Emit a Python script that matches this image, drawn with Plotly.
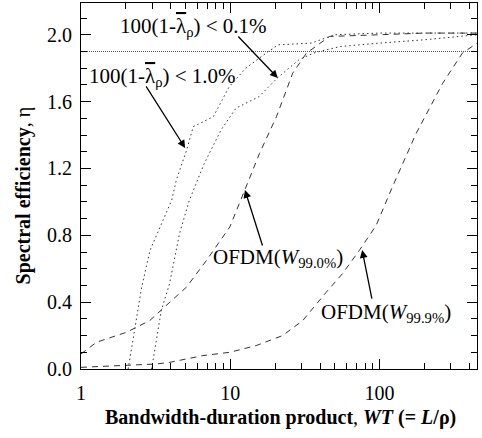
import plotly.graph_objects as go

# ---- data ----
wt_a = [2.07, 2.3, 2.55, 2.9, 4.05, 4.35, 5.1, 5.65, 7.7, 9.85, 12.7, 18, 21, 35, 50, 100, 200, 450]
eta_a = [0.0, 0.25, 0.49, 0.71, 1.01, 1.13, 1.31, 1.45, 1.51, 1.69, 1.80, 1.90, 1.94, 1.95, 2.0, 2.01, 2.01, 2.01]

wt_b = [2.97, 3.45, 3.92, 4.57, 5.32, 6.7, 8.67, 10.9, 15.6, 20.6, 28.8, 36, 44, 55, 100, 200, 450]
eta_b = [0.0, 0.35, 0.51, 0.81, 1.01, 1.23, 1.43, 1.56, 1.63, 1.74, 1.85, 1.89, 1.91, 1.93, 1.95, 1.97, 2.0]

wt_o99 = [1.0, 1.27, 2.02, 2.89, 3.94, 5.09, 6.93, 9.93, 12.5, 15.7, 20.4, 26.2, 32.4, 46.3, 100, 200, 450]
eta_o99 = [0.09, 0.16, 0.22, 0.29, 0.40, 0.49, 0.65, 0.85, 1.07, 1.29, 1.51, 1.77, 1.89, 1.99, 2.0, 2.01, 2.01]

wt_o999 = [1.0, 2.0, 3.2, 3.94, 6.54, 9.93, 14.9, 22.4, 30.6, 44.0, 56.4, 73.3, 95.0, 122, 176, 265, 359, 450]
eta_o999 = [0.01, 0.02, 0.03, 0.04, 0.08, 0.10, 0.14, 0.20, 0.29, 0.46, 0.57, 0.71, 0.86, 1.09, 1.41, 1.71, 1.89, 1.95]

ref_wt = [1.0, 450]
ref_eta = [1.9, 1.9]

x_major = [1, 10, 100]
x_minor = [2, 3, 4, 5, 6, 7, 8, 9, 20, 30, 40, 50, 60, 70, 80, 90, 200, 300, 400]

FONT = "Times New Roman, Liberation Serif, serif"
fig = go.Figure()

fig.add_trace(go.Scatter(x=ref_wt, y=ref_eta, mode="lines",
                         line=dict(color="#555", width=1, dash="1px,1px")))
fig.add_trace(go.Scatter(x=wt_a, y=eta_a, mode="lines",
                         line=dict(color="#333", width=1, dash="1.5px,3px")))
fig.add_trace(go.Scatter(x=wt_b, y=eta_b, mode="lines",
                         line=dict(color="#333", width=1, dash="1.5px,3px")))
fig.add_trace(go.Scatter(x=wt_o99, y=eta_o99, mode="lines",
                         line=dict(color="#333", width=1, dash="6px,5px")))
fig.add_trace(go.Scatter(x=wt_o999, y=eta_o999, mode="lines",
                         line=dict(color="#333", width=1, dash="6px,5px")))

def ann_text(txt, x, y, size=21, angle=0):
    fig.add_annotation(text=txt, x=x, y=y, xref="paper", yref="paper",
                       showarrow=False, xanchor="center", yanchor="middle",
                       textangle=angle,
                       font=dict(family=FONT, size=size, color="black"))

def ann_arrow(x, y, ax, ay):
    fig.add_annotation(text="", x=x, y=y, xref="paper", yref="paper",
                       showarrow=True, ax=ax, ay=ay, arrowhead=2, arrowsize=1.2,
                       arrowwidth=1.3, arrowcolor="black")

lam = '<span style="text-decoration:overline">\u03bb</span>'
ann_text("100(1-" + lam + "<sub>\u03c1</sub>) < 0.1%", 0.283, 0.934)
ann_text("100(1-" + lam + "<sub>\u03c1</sub>) < 1.0%", 0.205, 0.798)
ann_text("OFDM(<i>W</i><sub>99.0%</sub>)", 0.497, 0.303)
ann_text("OFDM(<i>W</i><sub>99.9%</sub>)", 0.769, 0.153)

# axis titles
ann_text("<b>Bandwidth-duration product</b>, <b><i>WT</i> (= <i>L</i>/\u03c1)</b>",
         0.505, -0.132, size=20)
ann_text("<b>Spectral efficiency</b>, \u03b7", -0.145, 0.473, size=20, angle=-90)

ann_arrow(0.497, 0.795, -41, -43)
ann_arrow(0.263, 0.604, -40, -63)
ann_arrow(0.414, 0.489, 18, 57)
ann_arrow(0.710, 0.325, 10, 50)

fig.update_layout(
    width=482, height=438,
    margin=dict(l=81, r=5, t=3, b=69),
    paper_bgcolor="white", plot_bgcolor="white",
    showlegend=False,
    font=dict(family=FONT, size=20, color="black"),
    xaxis=dict(
        type="log", range=[0, 2.653],
        tickmode="array", tickvals=x_major, ticktext=["1", "10", "100"],
        ticks="inside", ticklen=10, tickwidth=1, tickcolor="black",
        showline=True, linecolor="black", linewidth=1, mirror="ticks",
        showgrid=False, zeroline=False,
        minor=dict(tickmode="array", tickvals=x_minor, ticks="inside",
                   ticklen=6, tickwidth=1, tickcolor="black", showgrid=False),
        tickfont=dict(family=FONT, size=20),
        ticklabelstandoff=6,
    ),
    yaxis=dict(
        range=[0, 2.19], tickmode="linear", tick0=0, dtick=0.4, tickformat=".1f",
        ticks="inside", ticklen=10, tickwidth=1, tickcolor="black",
        showline=True, linecolor="black", linewidth=1, mirror="ticks",
        showgrid=False, zeroline=False,
        minor=dict(dtick=0.1, tick0=0, ticks="inside", ticklen=6, tickwidth=1,
                   tickcolor="black", showgrid=False),
        tickfont=dict(family=FONT, size=20),
        ticklabelstandoff=4,
    ),
)

fig.write_html("out.html")
